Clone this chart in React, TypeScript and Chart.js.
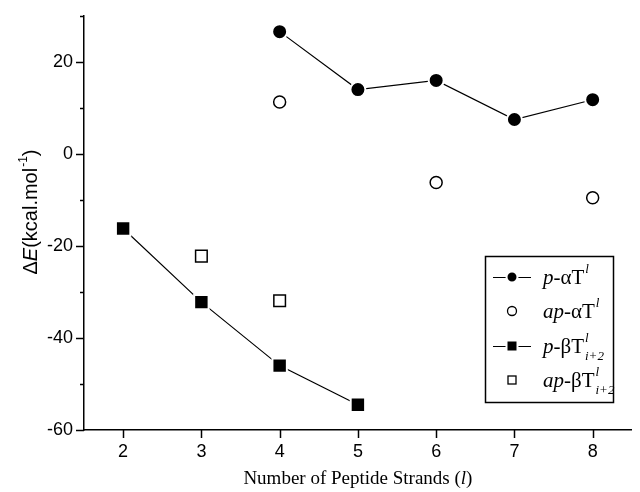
import React, { useEffect, useRef } from 'react';
import { Chart, registerables } from 'chart.js';
Chart.register(...registerables);

const pAlphaX = [4, 5, 6, 7, 8];
const pAlphaY = [26.6, 14.0, 16.0, 7.5, 11.8];
const apAlphaX = [4, 6, 8];
const apAlphaY = [11.3, -6.2, -9.5];
const pBetaX = [2, 3, 4, 5];
const pBetaY = [-16.2, -32.2, -46.0, -54.5];
const apBetaX = [3, 4];
const apBetaY = [-22.2, -31.9];
const xTicks = [2, 3, 4, 5, 6, 7, 8];
const yTicks = [-60, -40, -20, 0, 20];
const yMinorTicks = [-50, -30, -10, 10, 30];

type Part = { t: string; italic?: boolean; sup?: boolean; sub?: boolean; };

function drawRich(ctx: CanvasRenderingContext2D, parts: Part[], x: number, y: number, size: number, family: string, align: 'left' | 'center' = 'left') {
  const small = Math.round(size * 0.62);
  const fontFor = (p: Part) => `${p.italic ? 'italic ' : ''}${p.sup || p.sub ? small : size}px ${family}`;
  let total = 0;
  let cursor = 0;
  let maxScript = 0;
  let scriptStart = 0;
  const positions: number[] = [];
  for (let i = 0; i < parts.length; i++) {
    const p = parts[i];
    ctx.font = fontFor(p);
    const w = ctx.measureText(p.t).width;
    if (p.sup || p.sub) {
      if (!(i > 0 && (parts[i - 1].sup || parts[i - 1].sub))) { scriptStart = cursor; maxScript = 0; }
      positions.push(scriptStart + 1);
      maxScript = Math.max(maxScript, w + 1);
      total = Math.max(total, scriptStart + maxScript);
      const next = parts[i + 1];
      if (!next || !(next.sup || next.sub)) cursor = scriptStart + maxScript;
    } else {
      positions.push(cursor);
      cursor += w;
      total = Math.max(total, cursor);
    }
  }
  const x0 = align === 'center' ? x - total / 2 : x;
  ctx.textAlign = 'left';
  ctx.textBaseline = 'alphabetic';
  for (let i = 0; i < parts.length; i++) {
    const p = parts[i];
    ctx.font = fontFor(p);
    let yy = y;
    if (p.sup) yy = y - size * 0.52;
    if (p.sub) yy = y + size * 0.33;
    ctx.fillText(p.t, x0 + positions[i], yy);
  }
}

const decorPlugin = {
  id: 'decor',
  afterDraw(chart: any) {
    const ctx: CanvasRenderingContext2D = chart.ctx;
    const xs = chart.scales.x;
    const ys = chart.scales.y;
    const area = chart.chartArea;
    ctx.save();
    ctx.strokeStyle = '#000';
    ctx.fillStyle = '#000';
    ctx.lineWidth = 1.5;
    xTicks.forEach((v) => {
      const px = Math.round(xs.getPixelForValue(v)) + 0.5;
      ctx.beginPath();
      ctx.moveTo(px, area.bottom);
      ctx.lineTo(px, area.bottom + 8);
      ctx.stroke();
    });
    yTicks.forEach((v) => {
      const py = Math.round(ys.getPixelForValue(v)) + 0.5;
      ctx.beginPath();
      ctx.moveTo(area.left, py);
      ctx.lineTo(area.left - 8, py);
      ctx.stroke();
    });
    yMinorTicks.forEach((v) => {
      const py = Math.round(ys.getPixelForValue(v)) + 0.5;
      ctx.beginPath();
      ctx.moveTo(area.left, py);
      ctx.lineTo(area.left - 4, py);
      ctx.stroke();
    });

    // axis titles
    drawRich(ctx, [{ t: 'Number of Peptide Strands (' }, { t: 'l', italic: true }, { t: ')' }], (area.left + area.right) / 2, 484, 19, "'Liberation Serif'", 'center');
    ctx.save();
    ctx.translate(37, 212);
    ctx.rotate(-Math.PI / 2);
    drawRich(ctx, [{ t: 'Δ' }, { t: 'E', italic: true }, { t: '(kcal.mol' }, { t: '-1', sup: true }, { t: ')' }], 0, 0, 20, "'Liberation Sans'", 'center');
    ctx.restore();

    // legend
    const bx = 485, by = 256, bw = 128, bh = 146;
    ctx.lineWidth = 1.5;
    ctx.strokeRect(bx + 0.5, by + 0.5, bw, bh);
    const rows = [277, 311, 346, 380];
    const mx = 512;
    const fam = "'Liberation Serif'";
    ctx.lineWidth = 1.2;
    [0, 2].forEach((r) => {
      ctx.beginPath();
      ctx.moveTo(493, rows[r] + 0.5);
      ctx.lineTo(531, rows[r] + 0.5);
      ctx.stroke();
    });
    ctx.strokeStyle = '#fff';
    ctx.lineWidth = 2;
    ctx.beginPath();
    ctx.arc(mx, rows[0], 5.5, 0, Math.PI * 2);
    ctx.fill();
    ctx.stroke();
    ctx.fillStyle = '#fff';
    ctx.strokeStyle = '#000';
    ctx.lineWidth = 1.3;
    ctx.beginPath();
    ctx.arc(mx, rows[1], 4.5, 0, Math.PI * 2);
    ctx.fill();
    ctx.stroke();
    ctx.fillStyle = '#000';
    ctx.strokeStyle = '#fff';
    ctx.lineWidth = 2;
    ctx.fillRect(mx - 5.5, rows[2] - 5.5, 11, 11);
    ctx.strokeRect(mx - 5.5, rows[2] - 5.5, 11, 11);
    ctx.strokeStyle = '#000';
    ctx.lineWidth = 1.3;
    ctx.fillStyle = '#fff';
    ctx.fillRect(mx - 4, rows[3] - 4, 8, 8);
    ctx.strokeRect(mx - 4, rows[3] - 4, 8, 8);
    ctx.fillStyle = '#000';
    const tx = 543;
    const size = 21;
    drawRich(ctx, [{ t: 'p', italic: true }, { t: '-αT' }, { t: 'l', italic: true, sup: true }], tx, rows[0] + 7, size, fam);
    drawRich(ctx, [{ t: 'ap', italic: true }, { t: '-αT' }, { t: 'l', italic: true, sup: true }], tx, rows[1] + 7, size, fam);
    drawRich(ctx, [{ t: 'p', italic: true }, { t: '-βT' }, { t: 'l', italic: true, sup: true }, { t: 'i+2', italic: true, sub: true }], tx, rows[2] + 7, size, fam);
    drawRich(ctx, [{ t: 'ap', italic: true }, { t: '-βT' }, { t: 'l', italic: true, sup: true }, { t: 'i+2', italic: true, sub: true }], tx, rows[3] + 7, size, fam);
    ctx.restore();
  },
};

export default function App() {
  const ref = useRef<HTMLCanvasElement | null>(null);
  useEffect(() => {
    document.body.style.margin = '0';
    const toPts = (xs: number[], ys: number[]) => xs.map((x, i) => ({ x, y: ys[i] }));
    const chart = new Chart(ref.current as HTMLCanvasElement, {
      type: 'scatter',
      data: {
        datasets: [
          {
            label: 'p-αT',
            data: toPts(pAlphaX, pAlphaY),
            showLine: true,
            borderColor: '#000',
            borderWidth: 1.2,
            backgroundColor: '#000',
            pointStyle: 'circle',
            pointRadius: 7.5,
            pointBorderWidth: 2,
            pointBorderColor: '#fff',
            pointBackgroundColor: '#000',
          },
          {
            label: 'ap-αT',
            data: toPts(apAlphaX, apAlphaY),
            showLine: false,
            pointStyle: 'circle',
            pointRadius: 6,
            pointBorderWidth: 1.5,
            pointBorderColor: '#000',
            pointBackgroundColor: '#fff',
          },
          {
            label: 'p-βT',
            data: toPts(pBetaX, pBetaY),
            showLine: true,
            borderColor: '#000',
            borderWidth: 1.2,
            pointStyle: 'rect',
            pointRadius: 10.2,
            pointBorderWidth: 2,
            pointBorderColor: '#fff',
            pointBackgroundColor: '#000',
          },
          {
            label: 'ap-βT',
            data: toPts(apBetaX, apBetaY),
            showLine: false,
            pointStyle: 'rect',
            pointRadius: 8.2,
            pointBorderWidth: 1.5,
            pointBorderColor: '#000',
            pointBackgroundColor: '#fff',
          },
        ],
      },
      options: {
        animation: false,
        responsive: false,
        maintainAspectRatio: false,
        layout: { padding: { top: 16, right: 0, left: 0, bottom: 0 } },
        plugins: { legend: { display: false }, tooltip: { enabled: false } },
        scales: {
          x: {
            type: 'linear',
            min: 1.5,
            max: 8.5,
            grid: { display: false, drawTicks: false },
            border: { display: true, color: '#000', width: 1.5 },
            afterBuildTicks: (s: any) => { s.ticks = xTicks.map((v) => ({ value: v })); },
            afterFit: (s: any) => { s.height = 62; s.paddingLeft = 0; s.paddingRight = 0; },
            ticks: {
              padding: 11,
              color: '#000',
              font: { family: "'Liberation Sans'", size: 18 },
              callback: (v: any) => String(v),
            },
          },
          y: {
            type: 'linear',
            min: -60,
            max: 30,
            grid: { display: false, drawTicks: false },
            border: { display: true, color: '#000', width: 1.5 },
            afterBuildTicks: (s: any) => { s.ticks = yTicks.map((v) => ({ value: v })); },
            afterFit: (s: any) => { s.width = 84; s.paddingTop = 0; s.paddingBottom = 0; },
            ticks: {
              padding: 11,
              color: '#000',
              font: { family: "'Liberation Sans'", size: 18 },
              callback: (v: any) => String(v),
            },
          },
        },
      },
      plugins: [decorPlugin],
    });
    return () => chart.destroy();
  }, []);
  return (
    <div style={{ position: 'absolute', left: 0, top: 0, width: 640, height: 492, overflow: 'hidden', background: '#fff' }}>
      <canvas ref={ref} width={644} height={492} style={{ width: 644, height: 492, display: 'block' }} />
    </div>
  );
}
